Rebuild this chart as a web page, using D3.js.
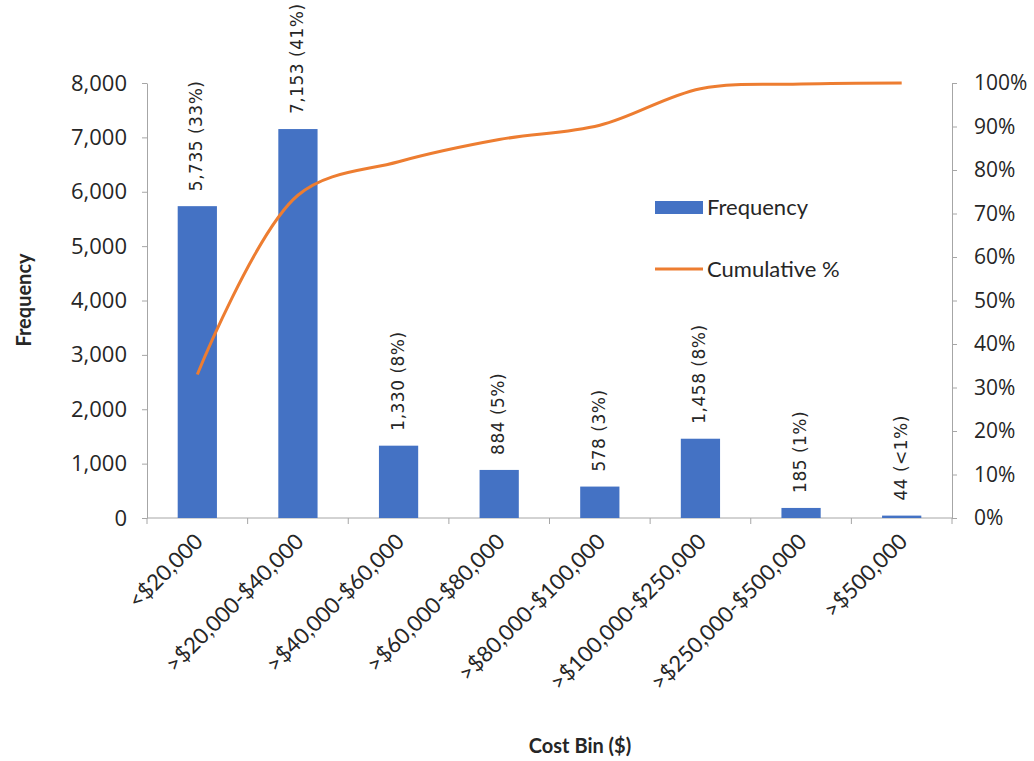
<!DOCTYPE html>
<html>
<head>
<meta charset="utf-8">
<script src="https://cdn.jsdelivr.net/npm/d3@7"></script>
<style>
  body { margin: 0; background: #fff; }
</style>
</head>
<body>
<div class="paretoChart"></div>
<script>
// chart values
const bins = ['<$20,000', '>$20,000-$40,000', '>$40,000-$60,000', '>$60,000-$80,000',
    '>$80,000-$100,000', '>$100,000-$250,000', '>$250,000-$500,000', '>$500,000'];
const frequency = [5735, 7153, 1330, 884, 578, 1458, 185, 44];
const sharePct = ['33%', '41%', '8%', '5%', '3%', '8%', '1%', '<1%'];
const cumulativePct = [33, 74.2, 81.9, 87.0, 90.3, 98.7, 99.75, 100];
const freqTicks = [0, 1000, 2000, 3000, 4000, 5000, 6000, 7000, 8000];
const pctTicks = [0, 10, 20, 30, 40, 50, 60, 70, 80, 90, 100];

const width = 1034, height = 761;
const margin = {top: 83, right: 82, bottom: 243, left: 147};
const innerW = width - margin.left - margin.right,
      innerH = height - margin.top - margin.bottom;

const axisGrey = '#a6a6a6';
const barBlue = '#4472C4';
const lineOrange = '#ED7D31';

const svg = d3.select('.paretoChart')
    .append('svg')
    .attr('width', width)
    .attr('height', height)
    .style('font-family', '"Open Sans", sans-serif');

const g = svg.append('g')
    .attr('transform', `translate(${margin.left}, ${margin.top})`);

// scales
const x = d3.scaleBand().domain(bins).range([0, innerW]).paddingInner(0.61).paddingOuter(0.305);
const xEdge = d3.scaleBand().domain(bins).range([0, innerW]);
const y = d3.scaleLinear().domain([0, 8000]).range([innerH, 0]);
const y2 = d3.scaleLinear().domain([0, 100]).range([innerH, 0]);

// left axis
const leftAxis = g.append('g')
    .call(d3.axisLeft(y).tickValues(freqTicks).tickSize(5).tickSizeOuter(0).tickPadding(15)
        .tickFormat(d3.format(',')));
leftAxis.selectAll('line, path').attr('stroke', axisGrey);
leftAxis.selectAll('text').attr('font-size', '22px').attr('fill', '#262626')
    .style('font-family', '"Open Sans", sans-serif');

// right axis
const rightAxis = g.append('g')
    .attr('transform', `translate(${innerW}, 0)`)
    .call(d3.axisRight(y2).tickValues(pctTicks).tickSize(5).tickSizeOuter(0).tickPadding(17)
        .tickFormat(d => d + '%'));
rightAxis.selectAll('line, path').attr('stroke', axisGrey);
rightAxis.selectAll('text').attr('font-size', '21px').attr('fill', '#262626')
    .style('font-family', '"Open Sans", sans-serif');

// bottom axis: ticks at the category edges
const bottom = g.append('g').attr('transform', `translate(0, ${innerH})`);
bottom.append('line')
    .attr('x1', 0).attr('x2', innerW)
    .attr('stroke', axisGrey);
bottom.selectAll('.edgeTick')
    .data(bins.concat(['end']))
    .join('line')
    .attr('class', 'edgeTick')
    .attr('x1', (d, i) => i * xEdge.step())
    .attr('x2', (d, i) => i * xEdge.step())
    .attr('y1', 0).attr('y2', 6)
    .attr('stroke', axisGrey);

bottom.selectAll('.binLabel')
    .data(bins)
    .join('text')
    .attr('class', 'binLabel')
    .attr('transform', d => `translate(${xEdge(d) + xEdge.bandwidth() / 2 + 7}, 25) rotate(-45)`)
    .attr('text-anchor', 'end')
    .attr('font-size', '22px')
    .attr('fill', '#262626')
    .style('font-family', 'Lato, sans-serif')
    .text(d => d);

// bars
g.selectAll('.bar')
    .data(frequency)
    .join('rect')
    .attr('class', 'bar')
    .attr('x', (d, i) => x(bins[i]))
    .attr('y', d => y(d))
    .attr('width', x.bandwidth())
    .attr('height', d => innerH - y(d))
    .attr('fill', barBlue);

// bar value labels
g.selectAll('.barLabel')
    .data(frequency)
    .join('text')
    .attr('class', 'barLabel')
    .attr('transform', (d, i) => `translate(${x(bins[i]) + x.bandwidth() / 2 - 1}, ${y(d) - 15}) rotate(-90)`)
    .attr('dy', '0.35em')
    .attr('font-size', '17px')
    .attr('letter-spacing', '0.5px')
    .attr('fill', '#262626')
    .style('font-family', '"DejaVu Sans", sans-serif')
    .text((d, i) => `${d3.format(',')(d)} (${sharePct[i]})`);

// cumulative line
const line = d3.line()
    .x((d, i) => xEdge(bins[i]) + xEdge.bandwidth() / 2)
    .y(d => y2(d))
    .curve(d3.curveCatmullRom.alpha(0.5));

g.append('path')
    .datum(cumulativePct)
    .attr('fill', 'none')
    .attr('stroke', lineOrange)
    .attr('stroke-width', 3)
    .attr('d', line);

// legend
const legend = svg.append('g').attr('transform', 'translate(655, 201)');
legend.append('rect')
    .attr('width', 48).attr('height', 13)
    .attr('fill', barBlue);
legend.append('text')
    .attr('x', 52).attr('y', 14)
    .attr('font-size', '22px')
    .attr('fill', '#262626')
    .style('font-family', 'Lato, sans-serif')
    .text('Frequency');
legend.append('line')
    .attr('x1', 0).attr('x2', 48)
    .attr('y1', 68).attr('y2', 68)
    .attr('stroke', lineOrange)
    .attr('stroke-width', 3);
legend.append('text')
    .attr('x', 52).attr('y', 76)
    .attr('font-size', '22px')
    .attr('fill', '#262626')
    .style('font-family', 'Lato, sans-serif')
    .text('Cumulative %');

// axis titles
svg.append('text')
    .attr('transform', 'translate(31, 300) rotate(-90)')
    .attr('text-anchor', 'middle')
    .attr('font-size', '20px')
    .attr('font-weight', 'bold')
    .attr('fill', '#262626')
    .style('font-family', 'Lato, sans-serif')
    .text('Frequency');

svg.append('text')
    .attr('x', 580).attr('y', 753)
    .attr('text-anchor', 'middle')
    .attr('font-size', '20px')
    .attr('font-weight', 'bold')
    .attr('fill', '#262626')
    .style('font-family', 'Lato, sans-serif')
    .text('Cost Bin ($)');
</script>
</body>
</html>
